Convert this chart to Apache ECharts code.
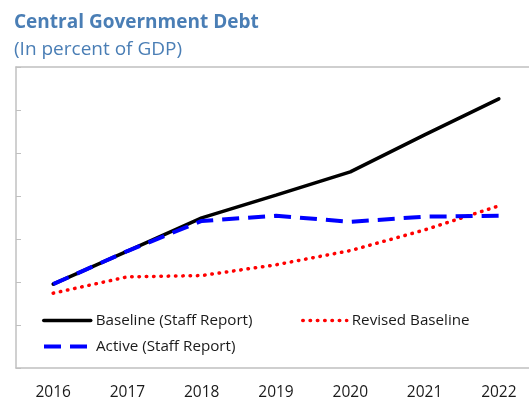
<!DOCTYPE html>
<html>
<head>
<meta charset="utf-8">
<script src="https://cdn.jsdelivr.net/npm/echarts@6/dist/echarts.min.js"></script>
<style>
  html, body { margin: 0; padding: 0; background: #fff; overflow: hidden; }
  #chart { width: 536px; height: 399px; }
</style>
</head>
<body>
<div id="chart"></div>
<script>
// Central government debt, percent of GDP
const years = ['2016', '2017', '2018', '2019', '2020', '2021', '2022'];
const baselineStaff = [19.5, 27.2, 34.9, 40.2, 45.6, 54.2, 62.6];
const activeStaff = [19.5, 27.2, 34.2, 35.4, 34.0, 35.2, 35.4];
const revisedBaseline = [17.4, 21.2, 21.5, 24.0, 27.3, 32.1, 37.7];

const FONT = '"Open Sans", "Noto Sans", sans-serif';
const GREY = '#c0c0c0';
const TITLE_BLUE = '#4a7eb5';

const blackStyle = { color: '#000', width: 3.5, type: 'solid', cap: 'round' };
const blueStyle = { color: '#0000ff', width: 4, type: [17, 9], cap: 'butt' };
const redStyle = { color: '#ff0000', width: 3.5, type: [0.5, 6.8], cap: 'round' };

function legendAt(name, left, top, style, iconWidth) {
  return {
    data: [name],
    left: left,
    top: top,
    itemWidth: iconWidth,
    itemHeight: 14,
    itemGap: 6,
    itemStyle: { opacity: 0 },
    lineStyle: { color: style.color, width: style.width, type: style.type, cap: style.cap },
    textStyle: { fontFamily: FONT, fontSize: 15.2, color: '#1a1a1a' }
  };
}

const chart = echarts.init(document.getElementById('chart'), null, { renderer: 'canvas' });
chart.setOption({
  backgroundColor: '#fff',
  animation: false,
  title: [
    {
      text: 'Central Government Debt',
      left: 9, top: 8,
      textStyle: { fontFamily: FONT, fontSize: 19, fontWeight: 'bold', color: TITLE_BLUE }
    },
    {
      text: '(In percent of GDP)',
      left: 9, top: 35,
      textStyle: { fontFamily: FONT, fontSize: 19, fontWeight: 'normal', color: TITLE_BLUE }
    }
  ],
  legend: [
    legendAt('Baseline (Staff Report)', 37, 308, blackStyle, 47),
    legendAt('Revised Baseline', 296, 308, redStyle, 44),
    legendAt('Active (Staff Report)', 37, 334, blueStyle, 47)
  ],
  grid: {
    left: 16, top: 67, right: 0, bottom: 31,
    outerBoundsMode: 'none',
    containLabel: false,
    show: false
  },
  xAxis: [
    {
      type: 'category',
      data: years,
      boundaryGap: true,
      axisLine: { lineStyle: { color: GREY, width: 1.5 } },
      axisTick: { inside: true, length: 5, lineStyle: { color: GREY, width: 1 } },
      axisLabel: { fontFamily: FONT, fontSize: 15.5, color: '#1a1a1a', margin: 17 },
      splitLine: { show: false }
    },
    {
      // top frame line of the plot area
      type: 'category',
      data: years,
      position: 'top',
      axisLine: { show: true, lineStyle: { color: GREY, width: 1.5 } },
      axisTick: { show: false },
      axisLabel: { show: false },
      splitLine: { show: false }
    }
  ],
  yAxis: {
    type: 'value',
    min: 0, max: 70, interval: 10,
    axisLine: { show: true, lineStyle: { color: GREY, width: 1.5 } },
    axisTick: { show: true, inside: true, length: 5, lineStyle: { color: GREY, width: 1 } },
    axisLabel: { show: false },
    splitLine: { show: false }
  },
  series: [
    {
      name: 'Baseline (Staff Report)', type: 'line', data: baselineStaff,
      symbol: 'none', color: '#000', lineStyle: blackStyle, z: 3
    },
    {
      name: 'Active (Staff Report)', type: 'line', data: activeStaff,
      symbol: 'none', color: '#0000ff', lineStyle: blueStyle, z: 4
    },
    {
      name: 'Revised Baseline', type: 'line', data: revisedBaseline,
      symbol: 'none', color: '#ff0000', lineStyle: redStyle, z: 2
    }
  ]
});
</script>
</body>
</html>
